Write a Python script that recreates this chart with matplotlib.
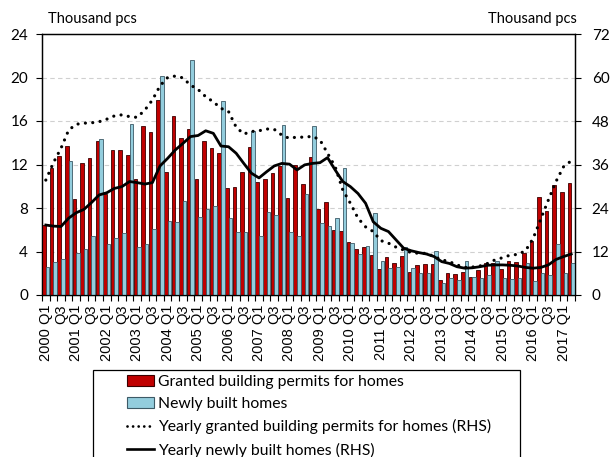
import matplotlib
matplotlib.use("Agg")
import matplotlib.pyplot as plt
import numpy as np
from matplotlib.patches import Rectangle, Patch
from matplotlib.lines import Line2D

plt.rcParams['font.family'] = ['Lato', 'DejaVu Sans']

# ---- data (2000 Q1 .. 2017 Q2) ----
quarters = [f"{y} Q{q}" for y in range(2000, 2018) for q in (1, 2, 3, 4)][:70]

permits = [6.44, 11.65, 12.8, 13.7,
           8.8, 12.1, 12.6, 14.2,
           9.25, 13.3, 13.3, 12.85,
           10.7, 15.5, 14.95, 17.9,
           11.3, 16.45, 14.4, 15.26,
           10.65, 14.2, 13.5, 13.1,
           9.87, 9.93, 11.3, 13.65,
           10.4, 10.65, 11.25, 11.86,
           8.95, 11.95, 10.2, 12.66,
           7.9, 8.52, 5.95, 5.9,
           4.84, 4.23, 4.38, 3.68,
           2.39, 3.46, 2.94, 3.62,
           2.15, 2.73, 2.85, 2.82,
           1.35, 2.0, 1.9, 2.15,
           1.62, 2.3, 2.91, 2.91,
           2.39, 3.16, 3.0, 3.9,
           5.0, 9.04, 7.7, 10.1,
           9.5, 10.27]

built = [2.55, 3.0, 3.28, 12.35,
         3.9, 4.2, 5.4, 14.3,
         4.7, 5.2, 5.7, 15.7,
         4.4, 4.7, 6.1, 20.1,
         6.8, 6.7, 8.67, 21.6,
         7.14, 7.9, 8.2, 17.8,
         7.05, 5.8, 5.8, 15.05,
         5.45, 7.65, 7.33, 15.6,
         5.76, 5.45, 9.3, 15.5,
         6.59, 6.37, 7.1, 11.65,
         4.75, 3.74, 4.53, 7.57,
         3.13, 2.45, 2.54, 4.44,
         2.45, 1.99, 2.0, 4.08,
         1.07, 1.53, 1.38, 3.16,
         1.62, 1.53, 1.84, 3.16,
         1.53, 1.5, 1.53, 2.9,
         1.32, 2.0, 1.84, 4.69,
         2.0, 2.9]

permits_yearly = [31.7, 36.5, 40.5, 45.5,
                  47.1, 47.4, 47.5, 47.8,
                  48.5, 49.4, 49.7, 49.2,
                  49.0, 51.0, 53.8, 57.7,
                  60.0, 60.4, 59.9, 57.9,
                  56.7, 54.7, 53.3, 51.5,
                  50.6, 46.3, 44.4, 45.1,
                  45.3, 45.8, 45.7, 44.1,
                  43.2, 43.6, 43.5, 43.8,
                  42.8, 39.1, 35.4, 29.0,
                  25.3, 21.2, 18.8, 17.5,
                  15.0, 14.3, 13.2, 12.4,
                  11.7, 11.5, 11.5, 10.6,
                  9.7, 9.2, 8.3, 7.6,
                  7.7, 8.0, 8.7, 9.7,
                  10.3, 11.0, 11.2, 12.2,
                  15.6, 20.9, 26.2, 31.3,
                  35.4, 37.0]

built_yearly = [19.3, 19.0, 18.9, 21.2,
                22.7, 23.6, 25.5, 27.6,
                28.2, 29.4, 29.9, 31.3,
                31.0, 30.6, 31.0, 35.6,
                37.7, 40.0, 41.8, 43.7,
                44.0, 45.3, 44.6, 41.1,
                40.9, 39.1, 36.3, 33.6,
                32.3, 34.0, 35.6, 36.3,
                36.1, 34.5, 35.9, 36.3,
                36.5, 37.9, 34.5, 31.3,
                29.9, 28.0, 25.3, 20.2,
                18.4, 17.5, 15.2, 12.9,
                12.2, 11.7, 11.3, 10.6,
                9.2, 8.7, 7.8, 7.4,
                7.5, 7.8, 8.2, 8.3,
                8.3, 8.2, 8.0, 7.6,
                7.4, 7.6, 8.3, 9.8,
                10.6, 11.3]

left_ticks = [0, 4, 8, 12, 16, 20, 24]
right_ticks = [0, 12, 24, 36, 48, 60, 72]

legend_labels = ["Granted building permits for homes",
                 "Newly built homes",
                 "Yearly granted building permits for homes (RHS)",
                 "Yearly newly built homes (RHS)"]

# ---- figure ----
W, H = 611, 457
fig = plt.figure(figsize=(W / 100, H / 100), dpi=100)
ax = fig.add_axes([42 / W, 1 - 295 / H, 533 / W, 261 / H])
ax2 = ax.twinx()

x = np.arange(len(quarters))
red = '#C00000'
blue = '#93CDDD'
bw = 0.47
ax.bar(x - bw / 2, permits, width=bw, color=red, edgecolor='#3a0000', linewidth=0.6, zorder=3)
ax.bar(x + bw / 2, built, width=bw, color=blue, edgecolor='#3d5a66', linewidth=0.6, zorder=3)

ax2.plot(x, permits_yearly, color='black', linewidth=2.3, linestyle=(0, (0.01, 2.3)),
         dash_capstyle='round', zorder=4)
ax2.plot(x, built_yearly, color='black', linewidth=2.0, zorder=4)

ax.set_xlim(-0.5, len(quarters) - 0.5)
ax.set_ylim(0, 24)
ax2.set_ylim(0, 72)
ax.set_yticks(left_ticks)
ax2.set_yticks(right_ticks)
for t in left_ticks[1:-1]:
    ax.axhline(t, color='#d0d0d0', linewidth=0.8, linestyle=(0, (4, 3)), zorder=1)

# x ticks: boundaries as tick marks, labels at every 2nd quarter
ax.set_xticks(np.arange(-0.5, len(quarters), 1.0))
ax.set_xticklabels([])
lab_pos = [i for i in range(len(quarters)) if i % 2 == 0]
lab_txt = []
for i in lab_pos:
    yr, q = quarters[i].split()
    lab_txt.append(quarters[i] if q == 'Q1' else q)
ax.set_xticks(lab_pos, minor=True)
ax.set_xticklabels(lab_txt, minor=True, rotation=90, fontsize=10.5,
                   family=['Liberation Sans', 'DejaVu Sans'], va='top', ha='center')
ax.tick_params(axis='x', which='major', length=4, width=0.8, direction='out')
ax.tick_params(axis='x', which='minor', length=0, pad=7)
ax.tick_params(axis='y', length=4, width=0.8, direction='out', labelsize=11, pad=6)
ax2.tick_params(axis='y', length=4, width=0.8, direction='out', labelsize=11, pad=8)

for a in (ax, ax2):
    for s in a.spines.values():
        s.set_linewidth(0.9)
        s.set_color('black')

fig.text(48 / W, 1 - 19 / H, "Thousand pcs", fontsize=10.5, ha='left', va='center')
fig.text(577 / W, 1 - 19 / H, "Thousand pcs", fontsize=10.5, ha='right', va='center')

# ---- legend ----
handles = [Patch(facecolor=red, edgecolor='#3a0000', linewidth=0.8),
           Patch(facecolor=blue, edgecolor='#3d5a66', linewidth=0.8),
           Line2D([], [], color='black', linewidth=2.0, linestyle=(0, (0.01, 2.0)), dash_capstyle='round'),
           Line2D([], [], color='black', linewidth=1.9)]
fig.legend(handles, legend_labels, loc='upper left',
           bbox_to_anchor=(127 / W, 1 - 375 / H), bbox_transform=fig.transFigure,
           frameon=False, fontsize=11.3, handlelength=1.75, handletextpad=0.22,
           labelspacing=0.52, borderpad=0, borderaxespad=0)
fig.patches.append(Rectangle((93 / W, -0.05), (520 - 93) / W, (1 - 370 / H) + 0.05,
                             transform=fig.transFigure, fill=False, edgecolor='black',
                             linewidth=0.9))

fig.savefig("out.png", dpi=100)
